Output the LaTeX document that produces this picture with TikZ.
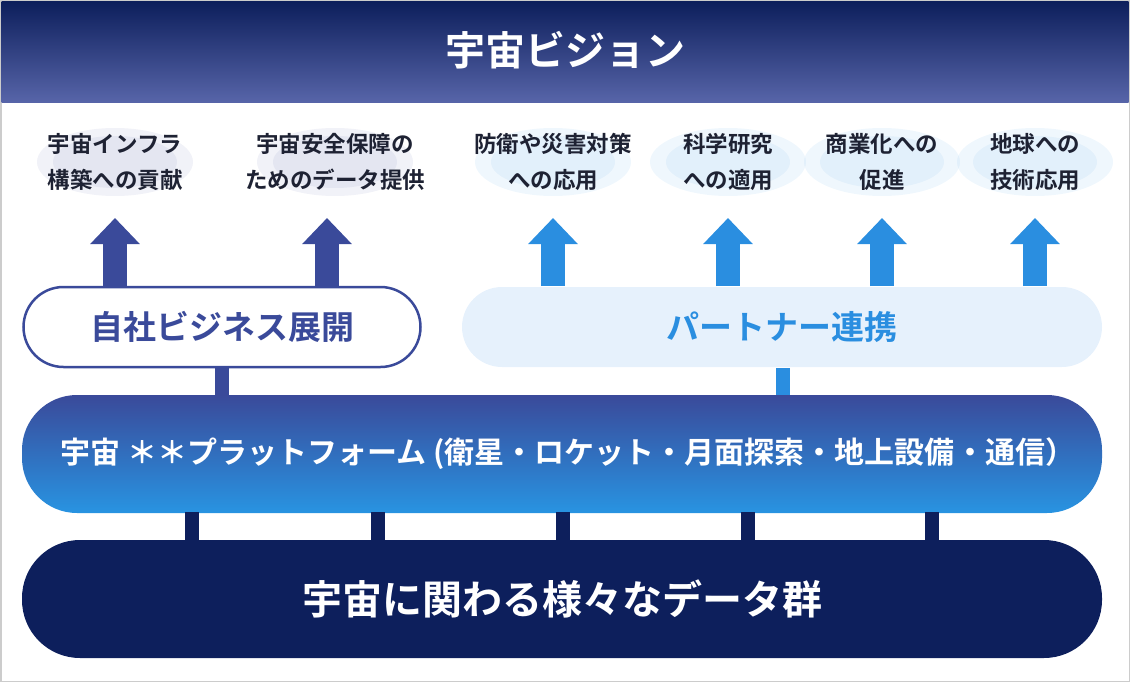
\documentclass[tikz,border=0pt]{standalone}
\usepackage{fontspec}
\setmainfont{Noto Sans CJK JP}[BoldFont={Noto Sans CJK JP Bold}]
\usetikzlibrary{positioning,arrows.meta}
\definecolor{navy}{HTML}{0D1F5C}
\definecolor{indigo}{HTML}{3A4A9A}
\definecolor{sky}{HTML}{2A8EE0}
\definecolor{pale}{HTML}{E6F1FC}
\definecolor{ink}{HTML}{1E2233}
\tikzset{
  goal/.style={align=center,font=\bfseries\fontsize{22.5}{36}\selectfont,text=ink},
  glow/.style={fill=#1,opacity=0.12,draw=none},
  uparrow/.style={line width=24pt,-{Triangle[width=48pt,length=26pt]},draw=#1},
  pill/.style={rounded corners=40pt,minimum height=80pt},
  stem/.style={line width=14pt,draw=#1}
}
\begin{document}
\begin{tikzpicture}[x=1pt,y=-1pt]
  \useasboundingbox (0,0) rectangle (1130,682);
  \draw[gray!40,line width=1.5pt] (0.75,0.75) rectangle (1129.25,681.25);

  % header
  \shade[top color=navy,bottom color=indigo!85!white] (1.5,1.5) rectangle (1128.5,103);
  \node[text=white,font=\bfseries\fontsize{40}{46}\selectfont] (vision) at (565,50) {宇宙ビジョン};

  % goals
  \foreach \x/\c in {115/indigo,335/indigo,553/sky,728/sky,882/sky,1035/sky}{
    \fill[glow=\c!60] (\x,162) ellipse (78pt and 34pt);
    \fill[glow=\c!60] (\x,162) ellipse (62pt and 26pt);}
  \node[goal] (g1) at (115,162) {宇宙インフラ\\構築への貢献};
  \node[goal] (g2) at (335,162) {宇宙安全保障の\\ためのデータ提供};
  \node[goal] (g3) at (553,162) {防衛や災害対策\\への応用};
  \node[goal] (g4) at (728,162) {科学研究\\への適用};
  \node[goal] (g5) at (882,162) {商業化への\\促進};
  \node[goal] (g6) at (1035,162) {地球への\\技術応用};

  % business layer
  \node[pill,draw=indigo,line width=2.5pt,fill=white,minimum width=397pt,
        text=indigo,font=\bfseries\fontsize{33}{38}\selectfont] (own) at (222,327) {自社ビジネス展開};
  \node[pill,fill=pale,minimum width=640pt,
        text=sky,font=\bfseries\fontsize{33}{38}\selectfont] (partner) at (782,327) {パートナー連携};

  \foreach \x/\c in {115/indigo,327/indigo,553/sky,728/sky,882/sky,1035/sky}
    \draw[uparrow=\c] (\x,286) -- (\x,218);

  % platform
  \shade[rounded corners=55pt,top color=indigo,bottom color=sky!95!cyan] (22,395) rectangle (1102,513);
  \node[text=white,font=\bfseries\fontsize{30}{36}\selectfont] (platform) at (568,454)
    {宇宙 ＊＊プラットフォーム (衛星・ロケット・月面探索・地上設備・通信）};
  \draw[stem=indigo] (222,368) -- (222,395);
  \draw[stem=sky] (783,368) -- (783,395);

  % data
  \node[pill,fill=navy,minimum width=1080pt,minimum height=118pt,rounded corners=58pt,
        text=white,font=\bfseries\fontsize{40}{46}\selectfont] (data) at (562,599) {宇宙に関わる様々なデータ群};
  \foreach \x in {192,378,563,748,932}
    \draw[stem=navy] (\x,512) -- (\x,541);
\end{tikzpicture}
\end{document}
